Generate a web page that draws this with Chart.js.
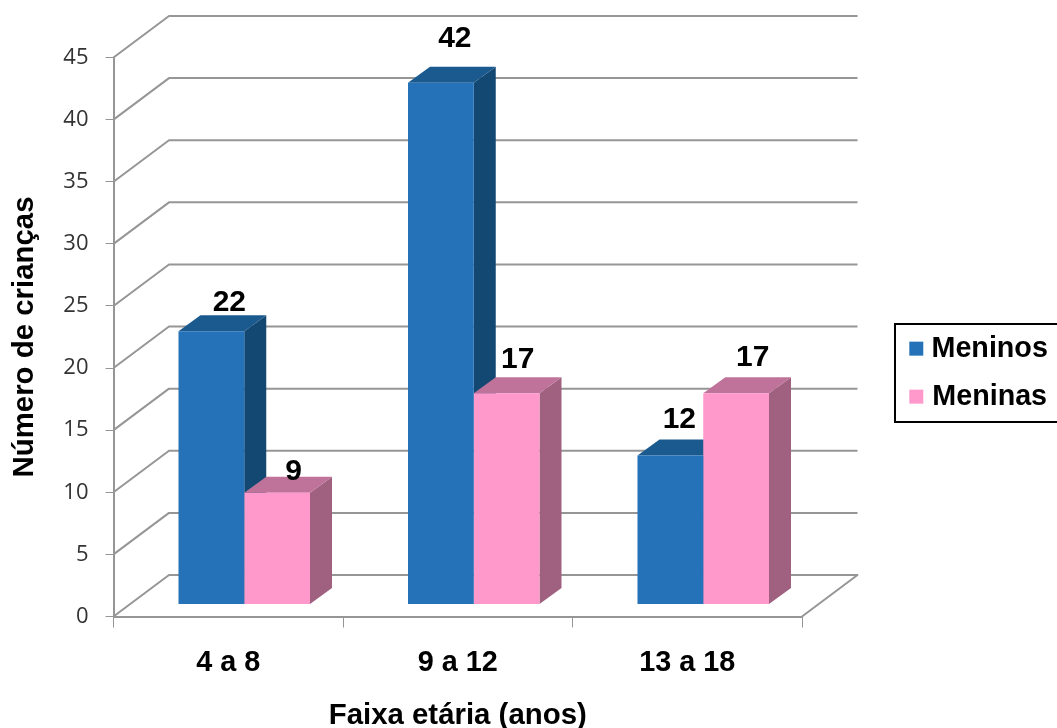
<!DOCTYPE html>
<html lang="pt">
<head>
<meta charset="utf-8">
<title>Número de crianças por faixa etária</title>
<script src="https://cdn.jsdelivr.net/npm/chart.js@4"></script>
<style>
  html, body { margin: 0; padding: 0; background: #fff; overflow: hidden; }
  #wrap { width: 1057px; height: 728px; }
</style>
</head>
<body>
<div id="wrap"><canvas id="chart" width="1057" height="728"></canvas></div>
<script>
const categories = ['4 a 8', '9 a 12', '13 a 18'];
const meninos = [22, 42, 12];
const meninas = [9, 17, 17];
const yTicks = [0, 5, 10, 15, 20, 25, 30, 35, 40, 45];

const FONT = '"Liberation Sans", Arial, sans-serif';
const GRID = '#969696';
const boldFont = size => ({ family: FONT, size, weight: 'bold', lineHeight: 1 });

// Perspective of the box: back wall offset and bar depth, in pixels.
const WALL = { dx: 55.5, dy: -41.5 };
const BAR_PLANE = { dx: 16, dy: -12 };
const BAR_DEPTH = { dx: 22, dy: -16 };

// Hand placement of each value label relative to its bar top, per dataset.
const LABEL_NUDGE = [
  [[18, -28], [14, -44], [9, -36]],
  [[16.5, -21], [11, -34], [16.5, -36]]
];

const FACES = [
  { top: '#1a5a8f', side: '#134872' },
  { top: '#c0739a', side: '#a0607f' }
];

function poly(ctx, pts, fill) {
  ctx.beginPath();
  pts.forEach((p, i) => (i ? ctx.lineTo(p[0], p[1]) : ctx.moveTo(p[0], p[1])));
  ctx.closePath();
  ctx.fillStyle = fill;
  ctx.fill();
}

const box3d = {
  id: 'box3d',
  beforeLayout(chart) {
    // The legend reserves the whole strip to the right of the plot.
    const legend = chart.legend;
    if (legend && !legend._wrapped) {
      const fit = legend.fit.bind(legend);
      const paint = legend._draw.bind(legend);
      legend.fit = function () { fit(); this.width = 255; };
      // Labels are centred against this edge; the clip keeps the wider one.
      legend._draw = function () { this.right = 1041.7; paint(); this.right = 1137; };
      legend._wrapped = true;
    }
  },
  afterLayout(chart) {
    const l = chart.legend;
    l.left = 890; l.right = 1137; l.top = 315; l.bottom = 728;
  },
  beforeDatasetsDraw(chart) {
    const { ctx, chartArea: a, scales: { y } } = chart;
    // Wall and floor gridlines
    ctx.save();
    ctx.strokeStyle = GRID;
    ctx.lineWidth = 2;
    ctx.lineJoin = 'round';
    y.ticks.forEach(t => {
      const py = y.getPixelForValue(t.value);
      ctx.beginPath();
      ctx.moveTo(a.left, py);
      ctx.lineTo(a.left + WALL.dx, py + WALL.dy);
      ctx.lineTo(a.right + WALL.dx, py + WALL.dy);
      if (t.value === 0) ctx.lineTo(a.right, py);
      ctx.stroke();
    });
    // Side and top faces go underneath every front face
    ctx.translate(BAR_PLANE.dx, BAR_PLANE.dy);
    chart.getSortedVisibleDatasetMetas().forEach((meta, di) => {
      meta.data.forEach(bar => {
        const l = bar.x - bar.width / 2, r = bar.x + bar.width / 2;
        const d = BAR_DEPTH;
        poly(ctx, [[r, bar.y], [r + d.dx, bar.y + d.dy], [r + d.dx, bar.base + d.dy], [r, bar.base]], FACES[di].side);
        poly(ctx, [[l, bar.y], [l + d.dx, bar.y + d.dy], [r + d.dx, bar.y + d.dy], [r, bar.y]], FACES[di].top);
      });
    });
    ctx.restore();
    // Front faces sit on the plane of the bars
    ctx.save();
    ctx.translate(BAR_PLANE.dx, BAR_PLANE.dy);
  },
  afterDatasetsDraw(chart) {
    const { ctx } = chart;
    ctx.restore();
    // Value labels
    ctx.save();
    ctx.font = 'bold 30px ' + FONT;
    ctx.fillStyle = '#000';
    ctx.textAlign = 'center';
    ctx.textBaseline = 'middle';
    chart.getSortedVisibleDatasetMetas().forEach((meta, di) => {
      meta.data.forEach((bar, i) => {
        const n = LABEL_NUDGE[di][i];
        ctx.fillText(String(chart.data.datasets[di].data[i]), bar.x + BAR_PLANE.dx + n[0], bar.y + BAR_PLANE.dy + n[1]);
      });
    });
    ctx.restore();
  },
  afterDraw(chart) {
    // Legend frame, running off the right edge
    const { ctx } = chart;
    ctx.save();
    ctx.strokeStyle = '#000';
    ctx.lineWidth = 2;
    ctx.strokeRect(895, 324, 170, 98);
    ctx.restore();
  }
};

new Chart(document.getElementById('chart'), {
  type: 'bar',
  data: {
    labels: categories,
    datasets: [
      { label: 'Meninos', data: meninos, backgroundColor: '#2572b8', borderWidth: 0, clip: false },
      { label: 'Meninas', data: meninas, backgroundColor: '#ff99cc', borderWidth: 0, clip: false }
    ]
  },
  plugins: [box3d],
  options: {
    responsive: false,
    animation: false,
    layout: { padding: { top: 57.5, left: 0, right: 0, bottom: 0 } },
    categoryPercentage: 0.573,
    barPercentage: 1,
    plugins: {
      tooltip: { enabled: false },
      title: { display: false },
      legend: {
        position: 'right',
        align: 'start',
        labels: {
          boxWidth: 14, boxHeight: 14, padding: 19.3,
          textAlign: 'center',
          color: '#000',
          font: boldFont(28.7)
        }
      }
    },
    scales: {
      x: {
        afterFit(s) { s.height = 111.5; },
        grid: { drawOnChartArea: false, drawTicks: true, tickLength: 11, color: GRID, lineWidth: 1 },
        border: { color: GRID, width: 2 },
        ticks: { color: '#000', padding: 21, font: boldFont(28.8), maxRotation: 0 },
        title: { display: true, text: 'Faixa etária (anos)', color: '#000', padding: { top: 20, bottom: -3 }, font: boldFont(29.4) }
      },
      y: {
        min: 0, max: 45,
        afterFit(s) { s.width = 113.5; },
        afterBuildTicks(s) { s.ticks = yTicks.map(value => ({ value })); },
        grid: { drawOnChartArea: false, drawTicks: true, tickLength: 8, color: GRID, lineWidth: 1 },
        border: { color: GRID, width: 2 },
        ticks: { color: '#333', padding: 17, font: { family: '"Open Sans", sans-serif', size: 22 } },
        title: { display: true, text: 'Número de crianças', color: '#000', padding: { top: 10, bottom: 0 }, font: boldFont(29.4) }
      }
    }
  }
});
</script>
</body>
</html>
